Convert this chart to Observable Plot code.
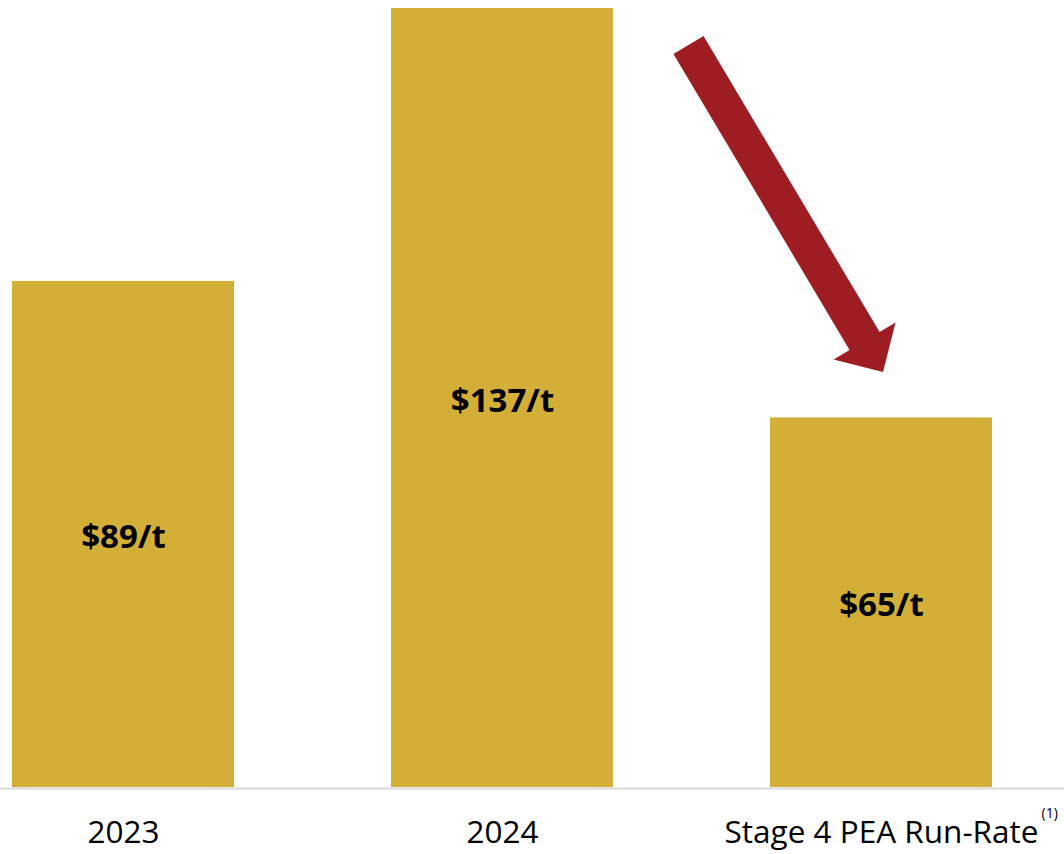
<!DOCTYPE html>
<html>
<head>
<meta charset="utf-8">
<script src="https://cdn.jsdelivr.net/npm/d3@7"></script>
<script src="https://cdn.jsdelivr.net/npm/@observablehq/plot@0.6"></script>
<style>
  html, body { margin: 0; padding: 0; background: #ffffff; }
  #chart svg { display: block; }
</style>
</head>
<body>
<div id="chart"></div>
<script>
const categories = ["2023", "2024", "Stage 4 PEA Run-Rate"];
const values = [89, 137, 65];
const valueLabels = ["$89/t", "$137/t", "$65/t"];
const footnote = "(1)";
// Arrow annotation: from the gap between 2024 and Stage 4 (value ~130) down to Stage 4 (value ~73)
const arrowFromValue = 130.5;
const arrowToValue = 73;

const data = categories.map((c, i) => ({ category: c, value: values[i], label: valueLabels[i] }));

const barColor = "#d4af37";
const arrowColor = "#9e1d22";

function arrowMark(index, scales, channels, dimensions, context) {
  const sx = scales.x, sy = scales.y;
  const bw = typeof sx.bandwidth === "function" ? sx.bandwidth() : (sx.bandwidth ?? 223);
  const x2024End = sx(categories[1]) + bw;
  const xStage = sx(categories[2]);
  const x0 = (x2024End + xStage) / 2 - 3;
  const y0 = sy(arrowFromValue);
  const x1 = xStage + bw / 2 + 2;
  const y1 = sy(arrowToValue);
  const dx = x1 - x0, dy = y1 - y0;
  const L = Math.hypot(dx, dy);
  const ux = dx / L, uy = dy / L;
  const px = -uy, py = ux;
  const shaftHalf = 17.5, headHalf = 36, headLen = 36;
  const bx = x1 - ux * headLen, by = y1 - uy * headLen;
  const pts = [
    [x0 + px * shaftHalf, y0 + py * shaftHalf],
    [bx + px * shaftHalf, by + py * shaftHalf],
    [bx + px * headHalf, by + py * headHalf],
    [x1, y1],
    [bx - px * headHalf, by - py * headHalf],
    [bx - px * shaftHalf, by - py * shaftHalf],
    [x0 - px * shaftHalf, y0 - py * shaftHalf]
  ];
  const path = d3.create("svg:path")
    .attr("d", "M" + pts.map(p => p.join(",")).join("L") + "Z")
    .attr("fill", arrowColor);
  return path.node();
}

const chart = Plot.plot({
  width: 1064,
  height: 854,
  marginLeft: 0,
  marginRight: 0,
  marginTop: 8,
  marginBottom: 67,
  style: { fontFamily: "'Open Sans', sans-serif", background: "#ffffff" },
  x: { domain: categories, range: [11, 994], paddingInner: 0.413, paddingOuter: 0, axis: null },
  y: { domain: [0, 137], axis: null },
  marks: [
    Plot.barY(data, { x: "category", y: "value", fill: barColor }),
    Plot.ruleY([0], { stroke: "#d9d9d9", strokeWidth: 2, dy: 1 }),
    Plot.text(data, {
      x: "category", y: d => d.value / 2, text: "label",
      fontSize: 33, fontWeight: "bold", fill: "#000000", dy: 3
    }),
    Plot.text(categories, {
      x: d => d, y: () => 0, text: d => d,
      fontSize: 31.5, fill: "#000000", dy: 45
    }),
    Plot.text([footnote], {
      x: () => categories[2], y: () => 0, text: d => d,
      fontSize: 14, fill: "#000000", textAnchor: "start", dx: 160, dy: 26
    }),
    arrowMark
  ]
});

document.getElementById("chart").appendChild(chart);
</script>
</body>
</html>
